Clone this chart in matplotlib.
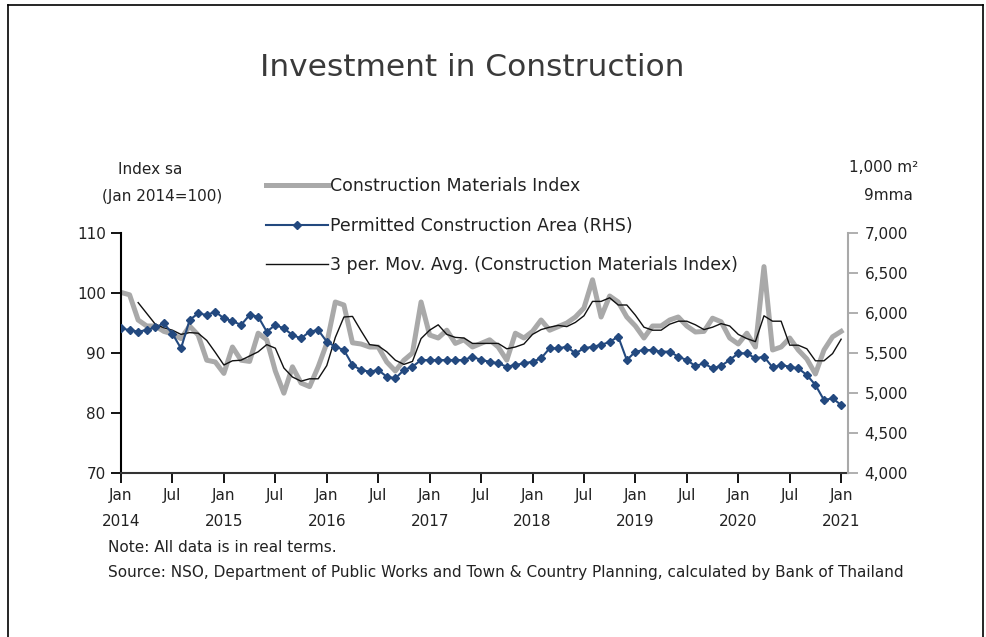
import matplotlib.pyplot as plt
import numpy as np
from matplotlib.lines import Line2D
from matplotlib.ticker import FuncFormatter

plt.rcParams['font.family'] = 'DejaVu Sans'

# monthly, Jan 2014 .. Jan 2021
months = np.arange(85)

# Construction Materials Index (sa, Jan 2014=100)
materials_index = [
    100.1, 99.7, 95.5, 94.5, 94.5, 93.6, 93.2, 92.4, 94.5, 93.0, 88.8, 88.5,
    86.6, 91.0, 88.8, 88.6, 93.3, 92.2, 87.0, 83.3, 87.7, 85.0, 84.4, 87.7,
    91.6, 98.5, 98.0, 91.7, 91.5, 91.0, 91.0, 88.5, 87.0, 88.8, 90.0, 98.5,
    93.0, 92.5, 93.8, 91.6, 92.2, 91.0, 91.6, 92.2, 91.0, 88.8, 93.3, 92.5,
    93.6, 95.5, 93.8, 94.4, 95.0, 96.0, 97.5, 102.2, 96.0, 99.5, 98.5, 96.0,
    94.5, 92.5, 94.5, 94.5, 95.5, 96.0, 94.5, 93.5, 93.6, 95.8, 95.2, 92.5,
    91.5, 93.3, 91.0, 104.4, 90.5, 91.0, 92.5, 90.5, 89.0, 86.5, 90.5, 92.7,
    93.6,
]

# 3 per. moving average of the index, from Mar 2014
moving_avg = [
    98.4, 96.6, 94.8, 94.2, 93.8, 93.1, 93.4, 93.3, 92.1, 90.1,
    88.0, 88.7, 88.8, 89.5, 90.2, 91.4, 90.8, 87.5, 86.0, 85.3, 85.7, 85.7,
    87.9, 92.6, 96.0, 96.1, 93.7, 91.4, 91.2, 90.2, 88.8, 88.1, 88.6, 92.4,
    93.8, 94.7, 93.1, 92.6, 92.5, 91.6, 91.6, 91.6, 91.6, 90.7, 91.0, 91.5,
    93.1, 93.9, 94.3, 94.6, 94.4, 95.1, 96.2, 98.6, 98.6, 99.2, 98.0, 98.0,
    96.3, 94.3, 93.8, 93.8, 94.8, 95.3, 95.3, 94.7, 93.9, 94.3, 94.9, 94.5,
    93.1, 92.4, 91.9, 96.2, 95.3, 95.3, 91.3, 91.3, 90.7, 88.7, 88.7, 89.9,
    92.3,
]

# Permitted Construction Area (1,000 m2, 9mma)
permitted_area = [
    5808, 5787, 5767, 5787, 5820, 5871, 5740, 5558, 5912, 5996, 5975, 6017,
    5933, 5900, 5850, 5975, 5954, 5767, 5850, 5808, 5725, 5683, 5767, 5787,
    5642, 5579, 5537, 5350, 5287, 5267, 5287, 5204, 5183, 5287, 5329, 5412,
    5412, 5412, 5412, 5412, 5412, 5454, 5412, 5392, 5371, 5329, 5350, 5371,
    5392, 5433, 5560, 5558, 5579, 5496, 5558, 5579, 5600, 5640, 5704, 5412,
    5517, 5537, 5537, 5517, 5517, 5454, 5412, 5337, 5371, 5308, 5340, 5412,
    5496, 5496, 5433, 5454, 5321, 5350, 5329, 5308, 5225, 5100, 4912, 4933,
    4850,
]

tick_pos = list(range(0, 85, 6))
tick_labels = []
for k in range(len(tick_pos)):
    if k % 2 == 0:
        tick_labels.append('Jan\n' + str(2014 + k // 2))
    else:
        tick_labels.append('Jul')

gray = '#a9a9a9'
blue = '#23497f'
txt = '#222222'

fig = plt.figure(figsize=(9.87, 6.37), dpi=100)
ax = fig.add_axes([121 / 987, 1 - 473 / 637, 727 / 987, 240 / 637])
ax2 = ax.twinx()

l1, = ax.plot(months, materials_index, color=gray, lw=3.6, solid_joinstyle='round', zorder=2)
l3, = ax.plot(months[2:], moving_avg, color='#111111', lw=1.0, zorder=3)
l2, = ax2.plot(months, permitted_area, color=blue, lw=1.5, marker='D', ms=4.2, zorder=4)

ax.set_xlim(0, 84.8)
ax.set_ylim(70, 110)
ax.set_yticks([70, 80, 90, 100, 110])
ax2.set_ylim(4000, 7000)
ax2.set_yticks(range(4000, 7001, 500))
ax2.yaxis.set_major_formatter(FuncFormatter(lambda v, p: '{:,.0f}'.format(v)))

ax.set_xticks(tick_pos)
ax.set_xticklabels(tick_labels)
for t in ax.get_xticklabels():
    t.set_linespacing(1.9)

for a in (ax, ax2):
    a.spines['top'].set_visible(False)
ax.spines['right'].set_visible(False)
ax2.spines['left'].set_visible(False)
ax2.spines['bottom'].set_visible(False)
ax.spines['left'].set_linewidth(1.5)
ax.spines['bottom'].set_linewidth(1.5)
ax.spines['bottom'].set_color('#333333')
ax2.spines['right'].set_color(gray)
ax2.spines['right'].set_linewidth(1.5)

ax.tick_params(axis='both', direction='out', length=7, width=1.3, labelsize=11,
               labelcolor=txt, pad=4)
ax2.tick_params(axis='y', direction='out', length=7, width=1.3, color=gray,
                labelsize=11, labelcolor=txt, pad=5)

fig.text(0.478, 1 - 68 / 637, 'Investment in Construction', ha='center', va='center',
         fontsize=22.5, color='#3a3a3a')
fig.text(150 / 987, 1 - 170 / 637, 'Index sa', ha='center', va='center', fontsize=11, color=txt)
fig.text(162 / 987, 1 - 196 / 637, '(Jan 2014=100)', ha='center', va='center', fontsize=11, color=txt)
fig.text(884 / 987, 1 - 168 / 637, '1,000 m²', ha='center', va='center', fontsize=11, color=txt)
fig.text(888 / 987, 1 - 195 / 637, '9mma', ha='center', va='center', fontsize=11, color=txt)

fig.legend([l1, l2, l3],
           ['Construction Materials Index', 'Permitted Construction Area (RHS)',
            '3 per. Mov. Avg. (Construction Materials Index)'],
           loc='upper left', bbox_to_anchor=(266 / 987, 1 - 177 / 637), frameon=False,
           fontsize=12.5, handlelength=3.6, handletextpad=0.1, labelspacing=1.25,
           borderpad=0, borderaxespad=0, labelcolor=txt)

fig.text(108 / 987, 1 - 547 / 637, 'Note: All data is in real terms.', ha='left', va='center',
         fontsize=11, color=txt)
fig.text(108 / 987, 1 - 572 / 637,
         'Source: NSO, Department of Public Works and Town & Country Planning, calculated by Bank of Thailand',
         ha='left', va='center', fontsize=11, color=txt)

# outer frame
fig.add_artist(Line2D([8 / 987, 8 / 987], [0, 1 - 5 / 637], transform=fig.transFigure, color='black', lw=1.2))
fig.add_artist(Line2D([8 / 987, 983 / 987], [1 - 5 / 637, 1 - 5 / 637], transform=fig.transFigure, color='black', lw=1.2))
fig.add_artist(Line2D([983 / 987, 983 / 987], [0, 1 - 5 / 637], transform=fig.transFigure, color='black', lw=1.2))

fig.savefig('out.png', dpi=100)
